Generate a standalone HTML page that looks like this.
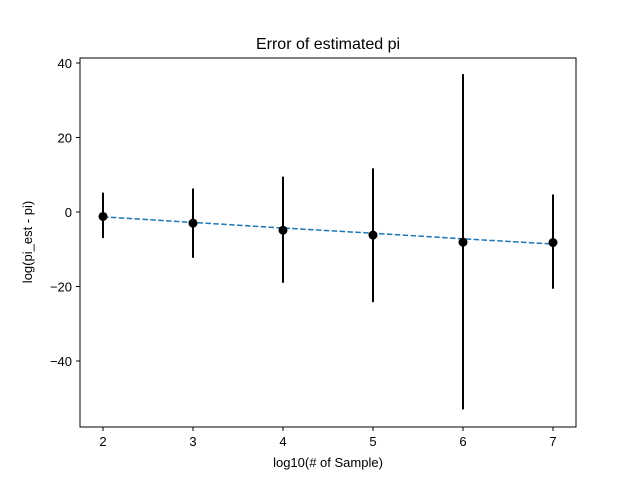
<!DOCTYPE html>
<html><head><meta charset="utf-8"><style>
body{margin:0;background:#fff;}
text{font-family:"Liberation Sans","DejaVu Sans",sans-serif;fill:#000;}
</style></head><body>
<svg id="chart" width="640" height="480" xmlns="http://www.w3.org/2000/svg">
<rect width="640" height="480" fill="#fff"/>
<text x="328" y="49" font-size="16" text-anchor="middle">Error of estimated pi</text>
<g id="plot"></g>
<rect x="80" y="58" width="496" height="369" fill="none" stroke="#000" stroke-width="1"/>
<text x="328" y="467" font-size="13" text-anchor="middle">log10(# of Sample)</text>
<text transform="translate(32,242) rotate(-90)" font-size="13" text-anchor="middle">log(pi_est - pi)</text>
</svg>
<script>
const xs = [2,3,4,5,6,7];
const means = [-1.2,-3.0,-4.9,-6.2,-8.1,-8.2];
const upper = [5.2,6.3,9.5,11.7,37.0,4.7];
const lower = [-7.0,-12.3,-19.0,-24.2,-53.0,-20.6];
const fit = [-1.3,-2.8,-4.3,-5.7,-7.2,-8.6];
const xTicks = [2,3,4,5,6,7];
const yTicks = [40,20,0,-20,-40];
const NS="http://www.w3.org/2000/svg";
const sx = v => 103 + (v-2)*90;
const sy = v => 212 - v*3.725;
const svg=document.getElementById('chart');
const g=document.getElementById('plot');
function mk(t,a){const e=document.createElementNS(NS,t);for(const k in a)e.setAttribute(k,a[k]);return e;}
xTicks.forEach(t=>{
  const l=mk('line',{x1:sx(t),x2:sx(t),y1:427,y2:431,stroke:'#000'});
  
  
  svg.appendChild(l);
  const tx=mk('text',{x:sx(t),y:446,'font-size':13,'text-anchor':'middle'});
  tx.textContent=t;
  
  
  svg.appendChild(tx);
});
yTicks.forEach(t=>{
  const l=mk('line',{x1:76,x2:80,y1:sy(t),y2:sy(t),stroke:'#000'});
  
  
  svg.appendChild(l);
  const tx=mk('text',{x:72,y:sy(t)+5,'font-size':13,'text-anchor':'end'});
  tx.textContent=(t<0?'\u2212'+(-t):t);
  
  
  svg.appendChild(tx);
});
const pts=xs.map((x,i)=>sx(x)+','+sy(fit[i])).join(' ');
const fl=mk('polyline',{points:pts,fill:'none',stroke:'#1f77b4','stroke-width':1.5,'stroke-dasharray':'5.5,2.4'});


g.appendChild(fl);
xs.forEach((x,i)=>{
  const eb=mk('line',{x1:sx(x),x2:sx(x),y1:sy(upper[i]),y2:sy(lower[i]),stroke:'#000','stroke-width':2});
  
  
  g.appendChild(eb);
  const c=mk('circle',{cx:sx(x),cy:sy(means[i]),r:4.5,fill:'#000'});
  
  
  g.appendChild(c);
});
</script>
</body></html>
